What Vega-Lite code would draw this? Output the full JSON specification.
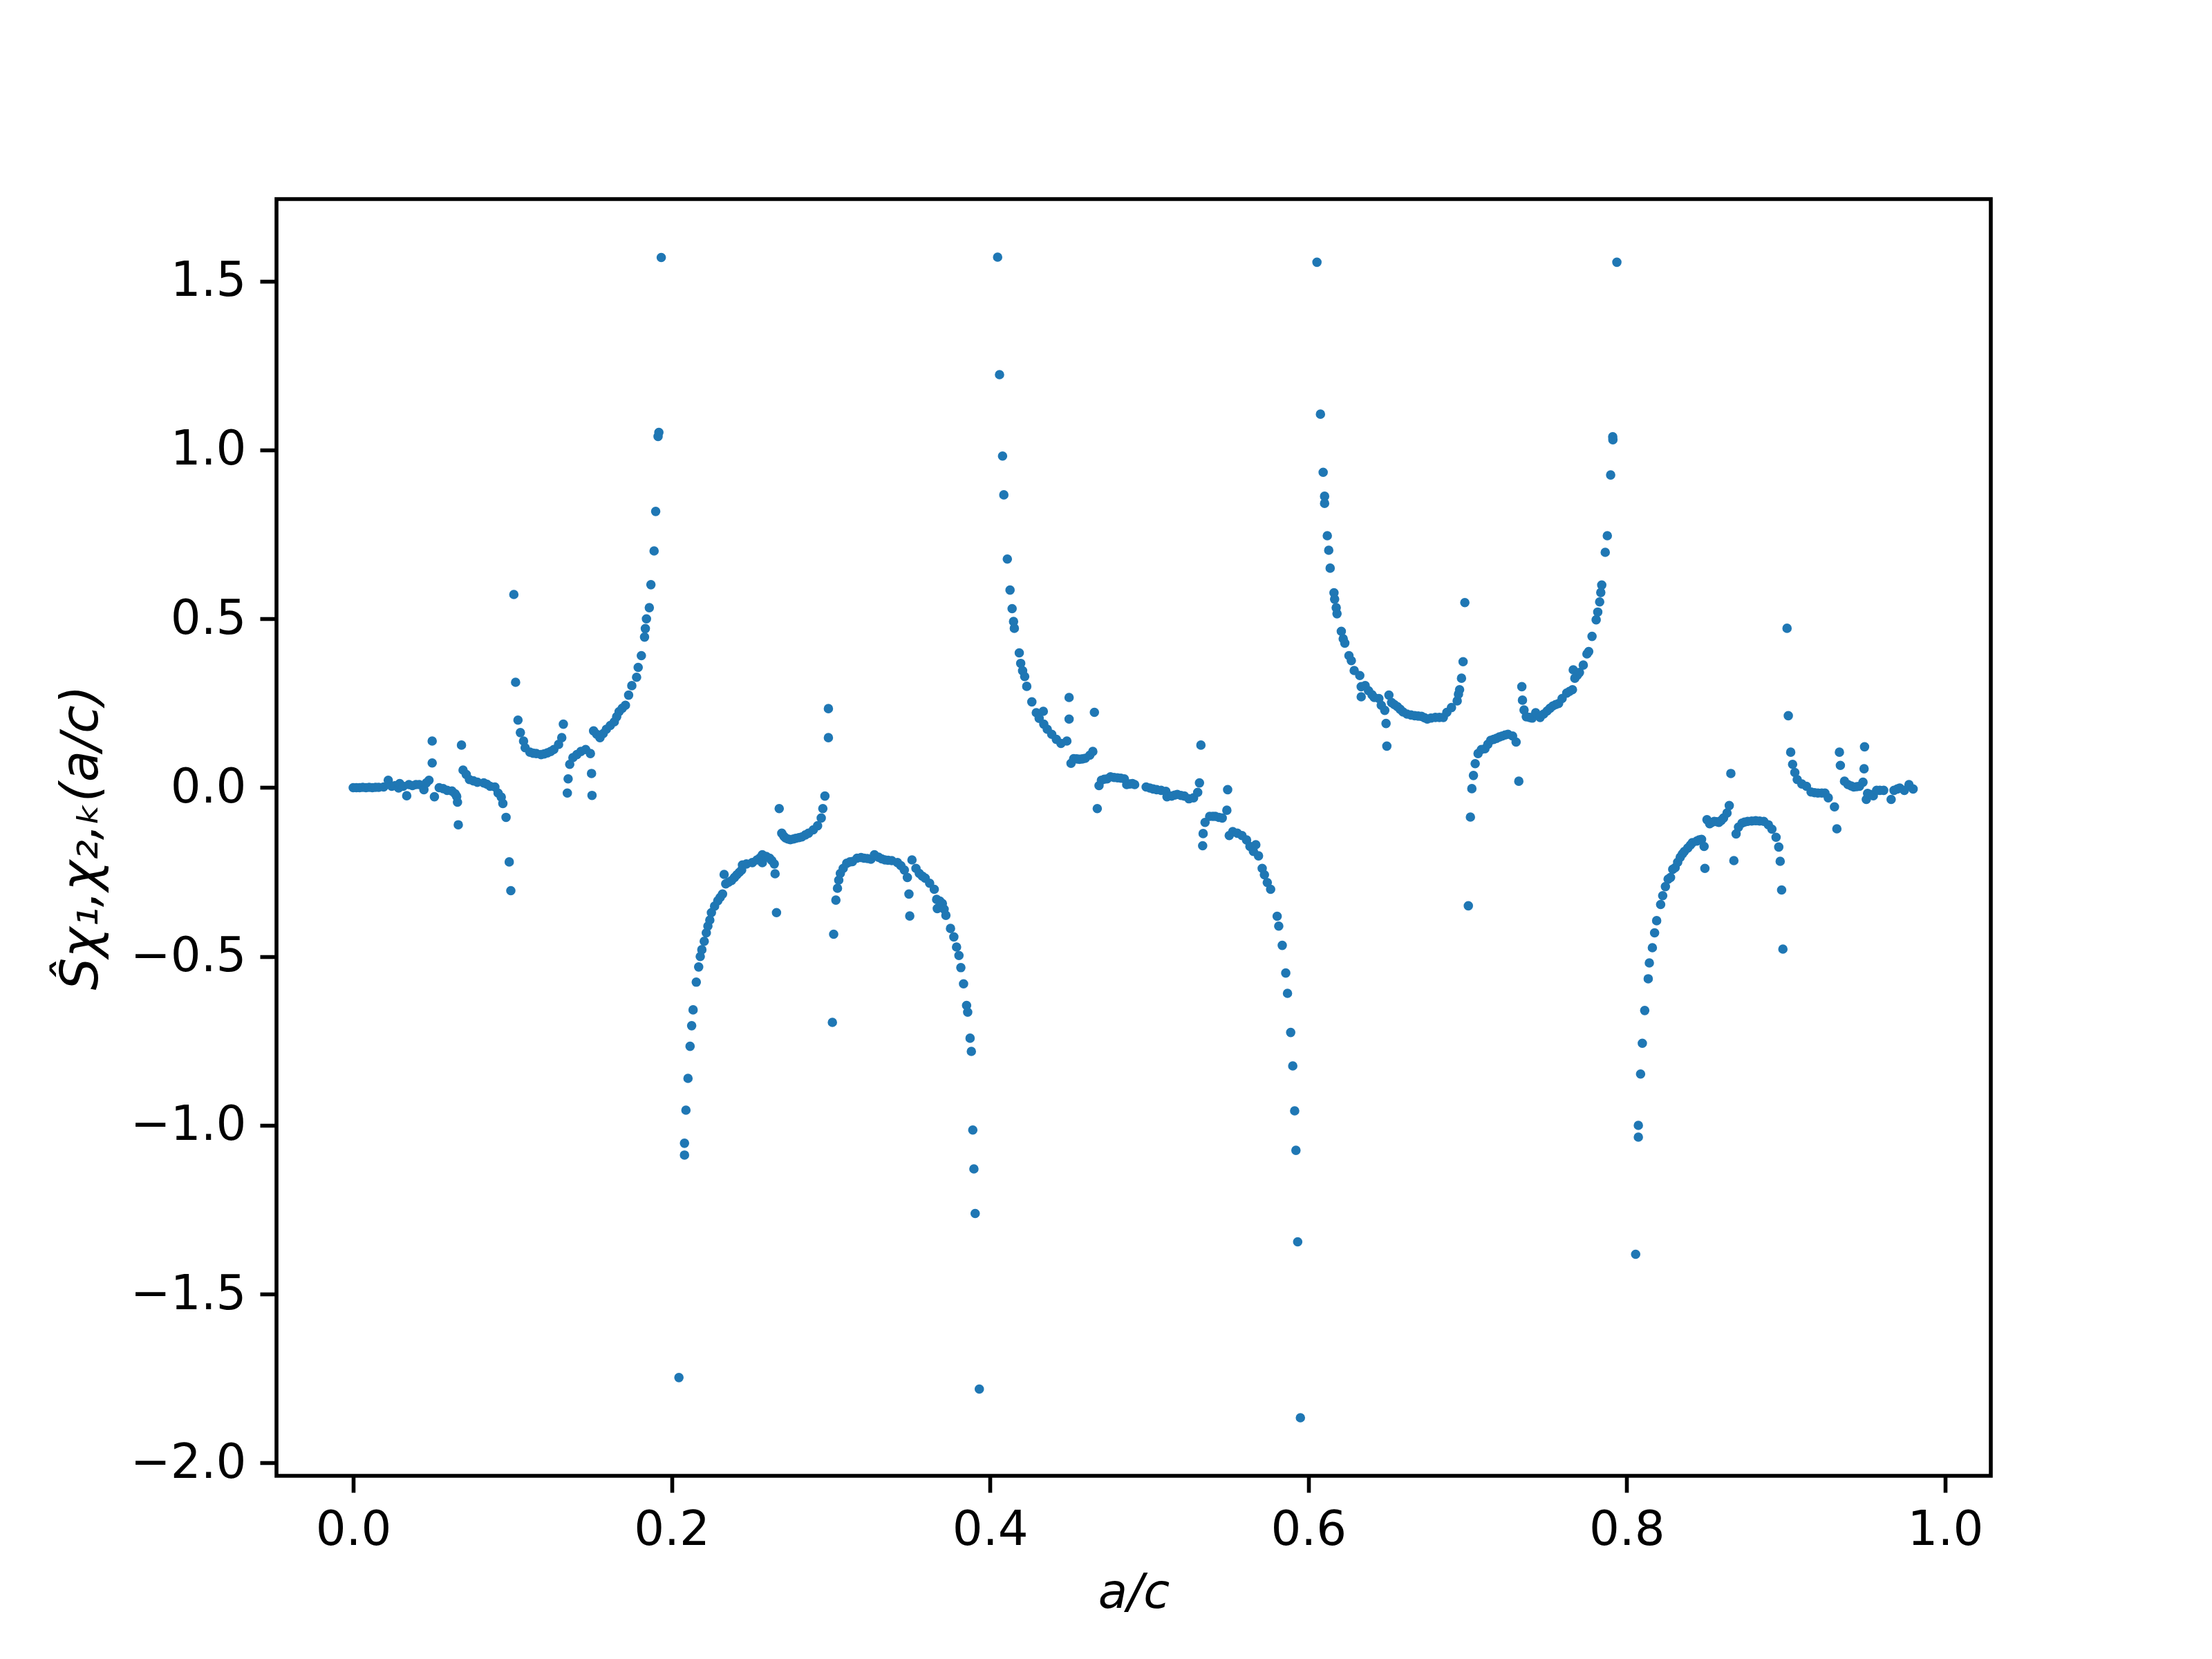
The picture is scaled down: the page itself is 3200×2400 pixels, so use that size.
{
  "$schema": "https://vega.github.io/schema/vega-lite/v6.json",
  "width": 2480,
  "height": 1847,
  "autosize": {"type": "none"},
  "padding": {"left": 400, "top": 288, "right": 320, "bottom": 265},
  "background": "white",
  "config": {
    "view": {"stroke": "black", "strokeWidth": 5.6},
    "axis": {
      "domain": false,
      "grid": false,
      "ticks": true,
      "tickSize": 24,
      "tickWidth": 5.6,
      "tickColor": "black",
      "labelFont": "DejaVu Sans",
      "labelFontSize": 69,
      "labelColor": "black",
      "labelPadding": 20,
      "titleFont": "DejaVu Sans",
      "titleFontSize": 69,
      "titleFontWeight": "normal",
      "titleFontStyle": "italic",
      "titleColor": "black"
    }
  },
  "data": {
    "values": [
      {"a":0.000,"s":0.000},{"a":0.002,"s":0.000},{"a":0.004,"s":0.000},{"a":0.006,"s":0.001},{"a":0.008,"s":0.000},{"a":0.010,"s":0.001},{"a":0.012,"s":0.000},{"a":0.014,"s":0.001},{"a":0.016,"s":0.001},
      {"a":0.0191,"s":0.002},{"a":0.0220,"s":0.022},{"a":0.0242,"s":0.004},{"a":0.0263,"s":0.006},{"a":0.0285,"s":-0.001},{"a":0.0292,"s":0.012},{"a":0.0314,"s":0.004},{"a":0.0336,"s":-0.024},{"a":0.0350,"s":0.009},{"a":0.0372,"s":0.006},{"a":0.0394,"s":0.009},{"a":0.0415,"s":0.009},{"a":0.0444,"s":-0.006},{"a":0.0459,"s":0.014},{"a":0.0476,"s":0.022},
      {"a":0.0496,"s":0.138},{"a":0.0496,"s":0.073},{"a":0.051,"s":-0.027},
      {"a":0.054,"s":0.000},{"a":0.0565,"s":-0.003},{"a":0.059,"s":-0.008},{"a":0.062,"s":-0.010},{"a":0.064,"s":-0.018},{"a":0.065,"s":-0.026},{"a":0.0655,"s":-0.043},{"a":0.066,"s":-0.110},
      {"a":0.068,"s":0.126},{"a":0.069,"s":0.052},{"a":0.071,"s":0.039},{"a":0.073,"s":0.024},{"a":0.0755,"s":0.020},{"a":0.078,"s":0.016},{"a":0.082,"s":0.014},{"a":0.084,"s":0.010},{"a":0.086,"s":0.004},{"a":0.089,"s":0.002},{"a":0.091,"s":-0.016},{"a":0.093,"s":-0.028},{"a":0.094,"s":-0.047},{"a":0.096,"s":-0.088},{"a":0.098,"s":-0.220},{"a":0.099,"s":-0.305},
      {"a":0.1009,"s":0.572},{"a":0.102,"s":0.312},{"a":0.1035,"s":0.200},{"a":0.105,"s":0.163},{"a":0.107,"s":0.138},{"a":0.108,"s":0.118},{"a":0.111,"s":0.105},{"a":0.113,"s":0.102},{"a":0.115,"s":0.101},{"a":0.118,"s":0.098},{"a":0.120,"s":0.100},{"a":0.122,"s":0.103},{"a":0.124,"s":0.107},{"a":0.126,"s":0.113},{"a":0.129,"s":0.128},{"a":0.131,"s":0.148},{"a":0.132,"s":0.188},
      {"a":0.1345,"s":-0.016},{"a":0.135,"s":0.026},{"a":0.136,"s":0.069},{"a":0.138,"s":0.089},{"a":0.1405,"s":0.098},{"a":0.143,"s":0.107},{"a":0.146,"s":0.113},{"a":0.149,"s":0.101},{"a":0.1497,"s":0.042},{"a":0.150,"s":-0.023},
      {"a":0.151,"s":0.168},{"a":0.153,"s":0.158},{"a":0.155,"s":0.148},{"a":0.157,"s":0.160},{"a":0.159,"s":0.173},{"a":0.1615,"s":0.184},{"a":0.164,"s":0.195},{"a":0.1655,"s":0.210},{"a":0.167,"s":0.225},{"a":0.169,"s":0.235},{"a":0.171,"s":0.244},{"a":0.173,"s":0.274},{"a":0.175,"s":0.302},{"a":0.178,"s":0.327},{"a":0.179,"s":0.356},{"a":0.181,"s":0.391},{"a":0.183,"s":0.446},{"a":0.1835,"s":0.471},{"a":0.1842,"s":0.500},{"a":0.186,"s":0.533},{"a":0.187,"s":0.601},{"a":0.189,"s":0.701},{"a":0.190,"s":0.818},{"a":0.1915,"s":1.040},{"a":0.192,"s":1.052},{"a":0.1935,"s":1.570},
      {"a":0.2046,"s":-1.747},{"a":0.2081,"s":-1.053},{"a":0.2081,"s":-1.088},{"a":0.209,"s":-0.955},{"a":0.2103,"s":-0.861},{"a":0.2116,"s":-0.766},{"a":0.2126,"s":-0.705},{"a":0.2135,"s":-0.658},{"a":0.2155,"s":-0.576},{"a":0.217,"s":-0.531},{"a":0.218,"s":-0.500},{"a":0.219,"s":-0.480},{"a":0.2205,"s":-0.455},{"a":0.2218,"s":-0.430},{"a":0.2228,"s":-0.410},{"a":0.224,"s":-0.392},{"a":0.225,"s":-0.370},{"a":0.227,"s":-0.351},{"a":0.229,"s":-0.335},{"a":0.2305,"s":-0.325},{"a":0.232,"s":-0.315},{"a":0.233,"s":-0.257},{"a":0.234,"s":-0.285},{"a":0.2358,"s":-0.280},{"a":0.2377,"s":-0.275},{"a":0.2395,"s":-0.266},{"a":0.241,"s":-0.258},{"a":0.2425,"s":-0.251},{"a":0.244,"s":-0.244},{"a":0.2445,"s":-0.229},{"a":0.247,"s":-0.226},{"a":0.2507,"s":-0.222},{"a":0.2536,"s":-0.214},{"a":0.2555,"s":-0.208},{"a":0.257,"s":-0.199},{"a":0.257,"s":-0.222},{"a":0.2595,"s":-0.204},{"a":0.2616,"s":-0.209},{"a":0.263,"s":-0.216},{"a":0.2645,"s":-0.226},{"a":0.265,"s":-0.255},{"a":0.2659,"s":-0.370},
      {"a":0.2676,"s":-0.062},{"a":0.2692,"s":-0.135},{"a":0.2705,"s":-0.144},{"a":0.2716,"s":-0.149},{"a":0.273,"s":-0.152},{"a":0.2746,"s":-0.154},{"a":0.2765,"s":-0.152},{"a":0.278,"s":-0.150},{"a":0.280,"s":-0.148},{"a":0.2818,"s":-0.146},{"a":0.284,"s":-0.140},{"a":0.286,"s":-0.135},{"a":0.289,"s":-0.125},{"a":0.2917,"s":-0.113},{"a":0.294,"s":-0.090},{"a":0.295,"s":-0.062},{"a":0.2963,"s":-0.025},
      {"a":0.2985,"s":0.148},{"a":0.2985,"s":0.234},
      {"a":0.301,"s":-0.695},{"a":0.3018,"s":-0.434},{"a":0.3032,"s":-0.333},{"a":0.3042,"s":-0.298},{"a":0.305,"s":-0.274},{"a":0.306,"s":-0.254},{"a":0.3078,"s":-0.239},{"a":0.310,"s":-0.224},{"a":0.312,"s":-0.220},{"a":0.3136,"s":-0.219},{"a":0.3165,"s":-0.209},{"a":0.319,"s":-0.207},{"a":0.3209,"s":-0.209},{"a":0.323,"s":-0.210},{"a":0.3252,"s":-0.212},{"a":0.3274,"s":-0.199},{"a":0.330,"s":-0.206},{"a":0.332,"s":-0.211},{"a":0.334,"s":-0.214},{"a":0.336,"s":-0.215},{"a":0.3383,"s":-0.216},{"a":0.3419,"s":-0.222},{"a":0.344,"s":-0.231},{"a":0.3462,"s":-0.244},{"a":0.3481,"s":-0.266},{"a":0.3491,"s":-0.315},{"a":0.3496,"s":-0.380},
      {"a":0.351,"s":-0.214},{"a":0.3535,"s":-0.239},{"a":0.3556,"s":-0.254},{"a":0.3575,"s":-0.262},{"a":0.3593,"s":-0.268},{"a":0.3621,"s":-0.283},{"a":0.365,"s":-0.301},{"a":0.3665,"s":-0.331},{"a":0.3669,"s":-0.358},{"a":0.3685,"s":-0.336},{"a":0.3701,"s":-0.343},{"a":0.3712,"s":-0.360},{"a":0.3723,"s":-0.378},{"a":0.3752,"s":-0.417},{"a":0.3773,"s":-0.442},{"a":0.379,"s":-0.472},{"a":0.3805,"s":-0.497},{"a":0.3817,"s":-0.533},{"a":0.3834,"s":-0.581},{"a":0.3853,"s":-0.645},{"a":0.386,"s":-0.665},{"a":0.3875,"s":-0.742},{"a":0.3883,"s":-0.781},{"a":0.3892,"s":-1.014},{"a":0.3899,"s":-1.129},{"a":0.3907,"s":-1.261},{"a":0.3933,"s":-1.781},
      {"a":0.4048,"s":1.571},{"a":0.406,"s":1.223},{"a":0.4079,"s":0.982},{"a":0.4087,"s":0.867},{"a":0.4109,"s":0.677},{"a":0.4126,"s":0.585},{"a":0.4139,"s":0.530},{"a":0.4148,"s":0.492},{"a":0.4153,"s":0.472},{"a":0.4184,"s":0.399},{"a":0.4193,"s":0.368},{"a":0.4205,"s":0.346},{"a":0.4218,"s":0.329},{"a":0.4231,"s":0.300},{"a":0.4263,"s":0.254},{"a":0.4291,"s":0.222},{"a":0.4309,"s":0.205},{"a":0.4335,"s":0.226},{"a":0.4338,"s":0.188},{"a":0.436,"s":0.173},{"a":0.4388,"s":0.158},{"a":0.4417,"s":0.143},{"a":0.4446,"s":0.131},{"a":0.4483,"s":0.138},{"a":0.4497,"s":0.267},{"a":0.4497,"s":0.203},
      {"a":0.4509,"s":0.072},{"a":0.4526,"s":0.086},{"a":0.4545,"s":0.085},{"a":0.4562,"s":0.084},{"a":0.458,"s":0.085},{"a":0.4598,"s":0.087},{"a":0.4627,"s":0.096},{"a":0.4646,"s":0.107},{"a":0.4656,"s":0.223},
      {"a":0.4674,"s":-0.062},{"a":0.4685,"s":0.006},{"a":0.470,"s":0.022},{"a":0.4718,"s":0.025},{"a":0.4736,"s":0.026},{"a":0.4757,"s":0.032},{"a":0.478,"s":0.030},{"a":0.4801,"s":0.029},{"a":0.4822,"s":0.028},{"a":0.4844,"s":0.026},{"a":0.4859,"s":0.009},{"a":0.4878,"s":0.011},{"a":0.4895,"s":0.012},{"a":0.4909,"s":0.009},
      {"a":0.4981,"s":0.002},{"a":0.5004,"s":-0.001},{"a":0.5025,"s":-0.004},{"a":0.5047,"s":-0.006},{"a":0.5075,"s":-0.008},{"a":0.5105,"s":-0.011},{"a":0.5112,"s":-0.027},{"a":0.5141,"s":-0.025},{"a":0.516,"s":-0.022},{"a":0.5177,"s":-0.020},{"a":0.520,"s":-0.023},{"a":0.5221,"s":-0.025},{"a":0.525,"s":-0.033},{"a":0.5279,"s":-0.030},{"a":0.5305,"s":-0.014},{"a":0.5316,"s":0.014},{"a":0.5325,"s":0.126},
      {"a":0.5336,"s":-0.172},{"a":0.5339,"s":-0.136},{"a":0.5351,"s":-0.103},{"a":0.538,"s":-0.085},{"a":0.540,"s":-0.085},{"a":0.5416,"s":-0.085},{"a":0.5438,"s":-0.088},{"a":0.5459,"s":-0.090},{"a":0.5488,"s":-0.067},{"a":0.5493,"s":-0.006},
      {"a":0.5503,"s":-0.142},{"a":0.5525,"s":-0.130},{"a":0.5554,"s":-0.135},{"a":0.5583,"s":-0.142},{"a":0.5612,"s":-0.155},{"a":0.5633,"s":-0.174},{"a":0.5655,"s":-0.189},{"a":0.567,"s":-0.169},{"a":0.5687,"s":-0.202},{"a":0.571,"s":-0.239},{"a":0.5724,"s":-0.258},{"a":0.5742,"s":-0.281},{"a":0.5763,"s":-0.301},{"a":0.5804,"s":-0.381},{"a":0.5814,"s":-0.410},{"a":0.5836,"s":-0.467},{"a":0.5858,"s":-0.549},{"a":0.5869,"s":-0.609},{"a":0.5889,"s":-0.725},{"a":0.5902,"s":-0.824},{"a":0.5914,"s":-0.957},{"a":0.5922,"s":-1.074},{"a":0.5933,"s":-1.345},{"a":0.595,"s":-1.866},
      {"a":0.6054,"s":1.556},{"a":0.6076,"s":1.106},{"a":0.6093,"s":0.934},{"a":0.6102,"s":0.863},{"a":0.6102,"s":0.842},{"a":0.6119,"s":0.746},{"a":0.6128,"s":0.703},{"a":0.6137,"s":0.650},{"a":0.6161,"s":0.577},{"a":0.6165,"s":0.558},{"a":0.6175,"s":0.533},{"a":0.618,"s":0.515},{"a":0.6207,"s":0.463},{"a":0.6219,"s":0.441},{"a":0.6229,"s":0.428},{"a":0.6255,"s":0.391},{"a":0.627,"s":0.376},{"a":0.6288,"s":0.347},{"a":0.6323,"s":0.332},{"a":0.6332,"s":0.299},{"a":0.6332,"s":0.269},{"a":0.6357,"s":0.302},{"a":0.6378,"s":0.287},{"a":0.640,"s":0.275},{"a":0.6414,"s":0.267},{"a":0.6443,"s":0.264},{"a":0.6458,"s":0.244},{"a":0.648,"s":0.229},{"a":0.6488,"s":0.190},{"a":0.6493,"s":0.123},
      {"a":0.6506,"s":0.274},{"a":0.6523,"s":0.252},{"a":0.654,"s":0.246},{"a":0.6559,"s":0.240},{"a":0.6577,"s":0.232},{"a":0.6595,"s":0.224},{"a":0.662,"s":0.218},{"a":0.6645,"s":0.215},{"a":0.6668,"s":0.213},{"a":0.669,"s":0.212},{"a":0.6711,"s":0.211},{"a":0.673,"s":0.207},{"a":0.6747,"s":0.203},{"a":0.677,"s":0.206},{"a":0.6798,"s":0.208},{"a":0.6823,"s":0.208},{"a":0.6848,"s":0.208},{"a":0.687,"s":0.223},{"a":0.6899,"s":0.237},{"a":0.6935,"s":0.257},{"a":0.6943,"s":0.277},{"a":0.695,"s":0.290},{"a":0.6962,"s":0.324},{"a":0.6972,"s":0.373},{"a":0.6983,"s":0.548},
      {"a":0.7005,"s":-0.350},{"a":0.7018,"s":-0.087},{"a":0.7027,"s":-0.003},{"a":0.7037,"s":0.036},{"a":0.7048,"s":0.071},{"a":0.7066,"s":0.101},{"a":0.7087,"s":0.113},{"a":0.7109,"s":0.115},{"a":0.7127,"s":0.128},{"a":0.7145,"s":0.140},{"a":0.7164,"s":0.143},{"a":0.7182,"s":0.146},{"a":0.720,"s":0.150},{"a":0.7218,"s":0.153},{"a":0.7236,"s":0.156},{"a":0.7254,"s":0.158},{"a":0.7283,"s":0.153},{"a":0.7305,"s":0.135},{"a":0.7322,"s":0.019},
      {"a":0.7341,"s":0.299},{"a":0.7345,"s":0.259},{"a":0.7355,"s":0.230},{"a":0.7369,"s":0.210},{"a":0.739,"s":0.208},{"a":0.7406,"s":0.206},{"a":0.7428,"s":0.222},{"a":0.7456,"s":0.208},{"a":0.7478,"s":0.218},{"a":0.750,"s":0.227},{"a":0.7518,"s":0.235},{"a":0.7536,"s":0.242},{"a":0.7554,"s":0.246},{"a":0.7572,"s":0.249},{"a":0.7594,"s":0.264},{"a":0.7623,"s":0.280},{"a":0.764,"s":0.285},{"a":0.7659,"s":0.290},{"a":0.7664,"s":0.349},{"a":0.7674,"s":0.324},{"a":0.769,"s":0.333},{"a":0.7703,"s":0.341},{"a":0.7727,"s":0.363},{"a":0.775,"s":0.396},{"a":0.7761,"s":0.403},{"a":0.7782,"s":0.448},{"a":0.7808,"s":0.497},{"a":0.7818,"s":0.520},{"a":0.783,"s":0.550},{"a":0.7837,"s":0.578},{"a":0.7843,"s":0.600},{"a":0.7865,"s":0.697},{"a":0.7878,"s":0.746},{"a":0.7899,"s":0.926},{"a":0.7912,"s":1.039},{"a":0.7913,"s":1.030},{"a":0.7938,"s":1.556},
      {"a":0.8056,"s":-1.382},{"a":0.8073,"s":-1.000},{"a":0.8073,"s":-1.035},{"a":0.8087,"s":-0.848},{"a":0.8098,"s":-0.757},{"a":0.8113,"s":-0.660},{"a":0.8135,"s":-0.566},{"a":0.8142,"s":-0.519},{"a":0.8161,"s":-0.474},{"a":0.8175,"s":-0.430},{"a":0.8188,"s":-0.394},{"a":0.8213,"s":-0.346},{"a":0.8226,"s":-0.320},{"a":0.8243,"s":-0.293},{"a":0.826,"s":-0.271},{"a":0.8275,"s":-0.266},{"a":0.8289,"s":-0.242},{"a":0.8304,"s":-0.237},{"a":0.832,"s":-0.221},{"a":0.8336,"s":-0.206},{"a":0.835,"s":-0.196},{"a":0.8362,"s":-0.189},{"a":0.8383,"s":-0.179},{"a":0.840,"s":-0.170},{"a":0.8412,"s":-0.163},{"a":0.8441,"s":-0.158},{"a":0.8455,"s":-0.155},{"a":0.847,"s":-0.153},{"a":0.8486,"s":-0.174},{"a":0.8491,"s":-0.239},
      {"a":0.8504,"s":-0.095},{"a":0.8521,"s":-0.107},{"a":0.8535,"s":-0.103},{"a":0.855,"s":-0.100},{"a":0.8565,"s":-0.101},{"a":0.8579,"s":-0.103},{"a":0.8594,"s":-0.097},{"a":0.8608,"s":-0.090},{"a":0.863,"s":-0.075},{"a":0.8644,"s":-0.053},{"a":0.8654,"s":0.042},
      {"a":0.8673,"s":-0.216},{"a":0.8687,"s":-0.137},{"a":0.8702,"s":-0.117},{"a":0.8724,"s":-0.105},{"a":0.874,"s":-0.102},{"a":0.876,"s":-0.100},{"a":0.8785,"s":-0.099},{"a":0.881,"s":-0.098},{"a":0.8835,"s":-0.099},{"a":0.8861,"s":-0.100},{"a":0.889,"s":-0.110},{"a":0.8912,"s":-0.123},{"a":0.8938,"s":-0.147},{"a":0.8955,"s":-0.176},{"a":0.8964,"s":-0.218},{"a":0.8973,"s":-0.303},{"a":0.8981,"s":-0.478},
      {"a":0.9007,"s":0.472},{"a":0.9015,"s":0.213},{"a":0.903,"s":0.105},{"a":0.9042,"s":0.069},{"a":0.9056,"s":0.045},{"a":0.9071,"s":0.024},{"a":0.910,"s":0.011},{"a":0.9129,"s":0.004},{"a":0.9158,"s":-0.013},{"a":0.918,"s":-0.015},{"a":0.9201,"s":-0.016},{"a":0.9225,"s":-0.016},{"a":0.9245,"s":-0.016},{"a":0.9266,"s":-0.030},{"a":0.9305,"s":-0.057},{"a":0.932,"s":-0.122},
      {"a":0.9336,"s":0.105},{"a":0.9342,"s":0.066},{"a":0.9368,"s":0.019},{"a":0.939,"s":0.009},{"a":0.941,"s":0.005},{"a":0.9426,"s":0.002},{"a":0.9445,"s":0.003},{"a":0.9462,"s":0.004},{"a":0.9484,"s":0.016},{"a":0.9491,"s":0.056},{"a":0.9494,"s":0.121},
      {"a":0.9505,"s":-0.035},{"a":0.9513,"s":-0.017},{"a":0.953,"s":-0.020},{"a":0.9549,"s":-0.024},{"a":0.957,"s":-0.008},{"a":0.959,"s":-0.008},{"a":0.9614,"s":-0.008},{"a":0.9661,"s":-0.035},{"a":0.9679,"s":-0.008},{"a":0.970,"s":-0.004},{"a":0.9715,"s":-0.001},{"a":0.9744,"s":-0.008},{"a":0.9773,"s":0.009},{"a":0.9799,"s":-0.004}
    ]
  },
  "mark": {"type": "point", "filled": true, "shape": "circle", "size": 185, "color": "#1f77b4", "opacity": 1, "strokeWidth": 0},
  "encoding": {
    "x": {
      "field": "a",
      "type": "quantitative",
      "scale": {"domain": [-0.0482, 1.0287], "nice": false, "zero": false},
      "axis": {"values": [0, 0.2, 0.4, 0.6, 0.8, 1.0], "format": ".1f", "title": "a/c", "titlePadding": 22}
    },
    "y": {
      "field": "s",
      "type": "quantitative",
      "scale": {"domain": [-2.038, 1.743], "nice": false, "zero": false},
      "axis": {"values": [-2.0, -1.5, -1.0, -0.5, 0.0, 0.5, 1.0, 1.5], "format": ".1f", "title": "Ŝχ₁,χ₂,ₖ(a/c)", "titlePadding": 44, "titleFontSize": 74}
    }
  }
}
